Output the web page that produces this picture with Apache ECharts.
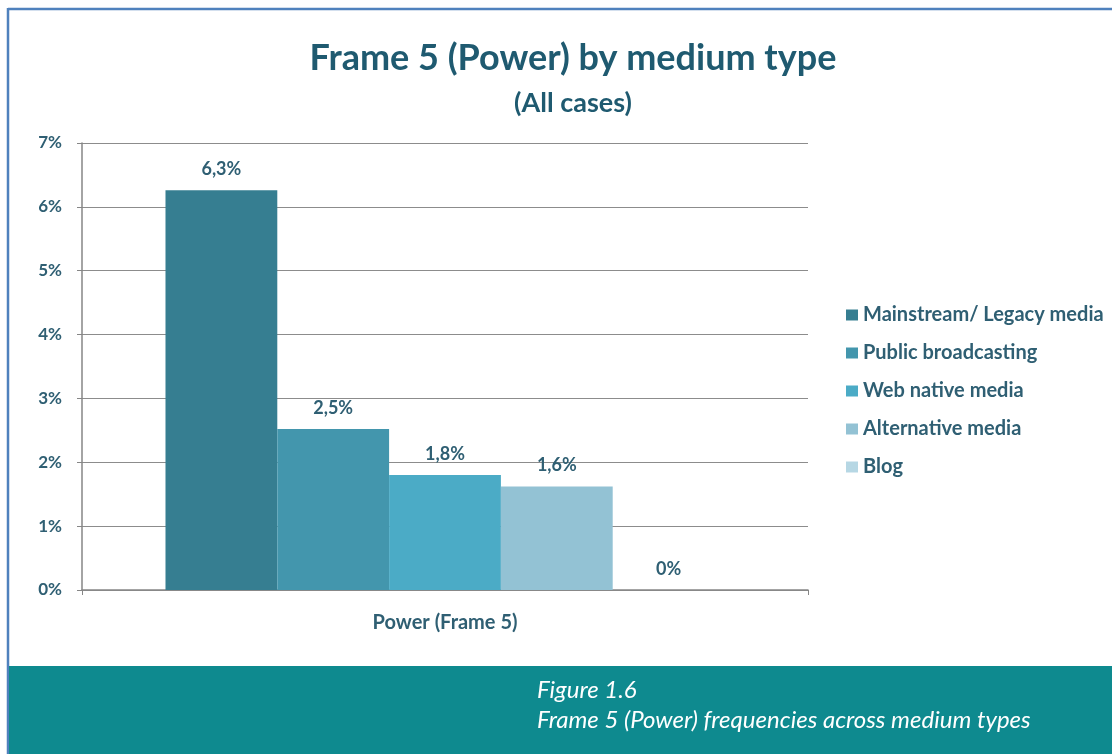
<!DOCTYPE html>
<html>
<head>
<meta charset="utf-8">
<script src="https://cdn.jsdelivr.net/npm/echarts@6/dist/echarts.min.js"></script>
<style>
  html, body { margin: 0; padding: 0; background: #fff; }
  #chart { width: 1112px; height: 754px; }
</style>
</head>
<body>
<div id="chart"></div>
<script>
const categories = ['Power (Frame 5)'];
const seriesNames = [
  'Mainstream/ Legacy media',
  'Public broadcasting',
  'Web native media',
  'Alternative media',
  'Blog'
];
const seriesValues = [6.26, 2.52, 1.80, 1.62, 0];
const seriesColors = ['#367e91', '#4396ad', '#4babc6', '#93c2d4', '#b6d7e4'];
const yTicks = [0, 1, 2, 3, 4, 5, 6, 7];

const textColor = '#2f5f73';
const font = 'Lato, "Open Sans", sans-serif';

const fmtLabel = (v) => (v === 0 ? '0%' : v.toFixed(1).replace('.', ',') + '%');

const chart = echarts.init(document.getElementById('chart'), null, { renderer: 'canvas' });

const series = seriesNames.map((name, i) => ({
  name,
  type: 'bar',
  data: [seriesValues[i]],
  barGap: 0,
  barCategoryGap: '23%',
  itemStyle: { color: seriesColors[i] },
  label: {
    show: true,
    position: 'top',
    distance: 12,
    formatter: (p) => fmtLabel(p.value),
    color: textColor,
    fontFamily: font,
    fontWeight: 'bold',
    fontSize: 18
  }
}));

chart.setOption({
  animation: false,
  backgroundColor: '#fff',
  textStyle: { fontFamily: font },
  title: [
    {
      text: 'Frame 5 (Power) by medium type',
      left: 568,
      top: 35,
      textAlign: 'center',
      textStyle: { color: '#1f5a70', fontSize: 36, fontWeight: 'bold', fontFamily: font }
    },
    {
      text: '(All cases)',
      left: 568,
      top: 85,
      textAlign: 'center',
      textStyle: { color: '#1f5a70', fontSize: 27, fontWeight: 'bold', fontFamily: font }
    }
  ],
  legend: {
    orient: 'vertical',
    left: 841,
    top: 298,
    itemGap: 14,
    itemWidth: 12,
    itemHeight: 11,
    icon: 'rect',
    data: seriesNames,
    textStyle: { color: textColor, fontSize: 20, fontWeight: 'bold', fontFamily: font, lineHeight: 24 }
  },
  grid: { left: 82, right: 304, top: 143, bottom: 164, containLabel: false },
  xAxis: {
    type: 'category',
    data: categories,
    axisLine: { lineStyle: { color: '#868686', width: 1.5 } },
    axisTick: { show: true, length: 5, lineStyle: { color: '#868686' } },
    axisLabel: {
      margin: 23,
      color: textColor,
      fontSize: 20,
      fontWeight: 'bold',
      fontFamily: font
    }
  },
  yAxis: {
    type: 'value',
    min: yTicks[0],
    max: yTicks[yTicks.length - 1],
    interval: 1,
    axisLine: { show: true, lineStyle: { color: '#868686', width: 1.5 } },
    axisTick: { show: true, length: 5, lineStyle: { color: '#868686' } },
    splitLine: { lineStyle: { color: '#8c8c8c', width: 1.2 } },
    axisLabel: {
      margin: 20,
      formatter: (v) => v + '%',
      color: textColor,
      fontSize: 17,
      fontWeight: 'bold',
      fontFamily: font
    }
  },
  series,
  graphic: [
    {
      type: 'line',
      shape: { x1: 8, y1: 9, x2: 1112, y2: 9 },
      style: { stroke: '#4f81bd', lineWidth: 2.5 }
    },
    {
      type: 'line',
      shape: { x1: 8, y1: 8, x2: 8, y2: 754 },
      style: { stroke: '#4f81bd', lineWidth: 2.5 }
    },
    {
      type: 'rect',
      shape: { x: 9, y: 666, width: 1103, height: 88 },
      style: { fill: '#0e8a8f' }
    },
    {
      type: 'text',
      left: 537,
      top: 675,
      style: {
        text: 'Figure 1.6\nFrame 5 (Power) frequencies across medium types',
        fill: '#ffffff',
        font: 'italic 24px ' + font,
        lineHeight: 30
      }
    }
  ]
});
</script>
</body>
</html>
